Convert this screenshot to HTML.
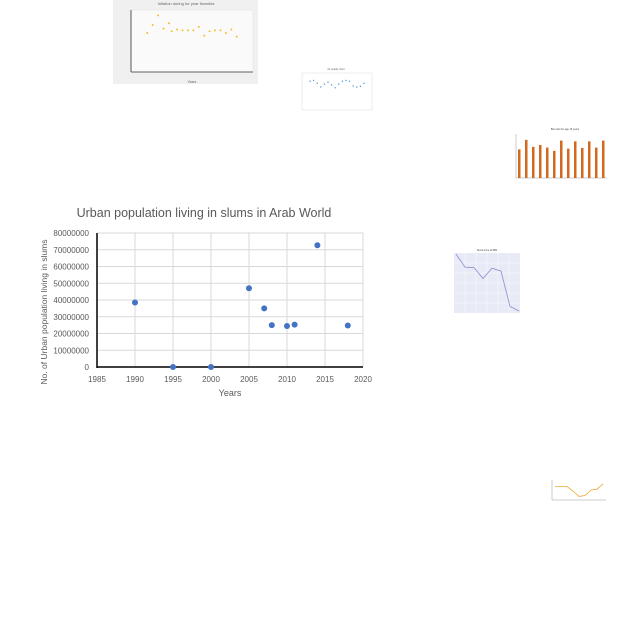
<!DOCTYPE html>
<html><head><meta charset="utf-8"><style>
html,body{margin:0;padding:0;background:#fff;width:640px;height:640px;overflow:hidden}
svg{position:absolute;left:0;top:0}
text{font-family:"Liberation Sans",sans-serif}
</style></head><body>
<svg width="640" height="640">
<g id="thumbs"></g>
<g id="main"></g>
</svg>
<script>
// Main chart data
const years = [1990, 1995, 2000, 2005, 2007, 2008, 2010, 2011, 2014, 2018];
const slumPop = [38500000, 0, 0, 47000000, 35000000, 25000000, 24500000, 25300000, 72700000, 24800000];
const xTicks = [1985, 1990, 1995, 2000, 2005, 2010, 2015, 2020];
const yTicks = [0, 10000000, 20000000, 30000000, 40000000, 50000000, 60000000, 70000000, 80000000];
// Thumbnail data
const inflYears = [1981,1983,1985,1987,1989,1990,1992,1994,1996,1998,2000,2002,2004,2006,2008,2010,2012,2014];
const inflVals = [44,53,64,49,55,46,48,47,47,47,51,41,46,47,47,44,48,40];
const barVals = [78,104,85,90,83,74,102,80,100,82,100,83,102];
const stockVals = [1.0,0.77,0.76,0.57,0.75,0.7,0.08,0.0];
const waveVals = [0.78,0.8,0.72,0.62,0.7,0.75,0.68,0.6,0.7,0.78,0.8,0.78,0.65,0.62,0.64,0.72];
const orangeVals = [0.75,0.75,0.75,0.5,0.2,0.25,0.55,0.6,0.9];

const NS='http://www.w3.org/2000/svg';
function mk(parent,tag,attrs,txt){const e=document.createElementNS(NS,tag);for(const k in attrs)e.setAttribute(k,attrs[k]);if(txt!==undefined)e.textContent=txt;parent.appendChild(e);return e;}

const main=document.getElementById('main');
const X0=97,X1=363,Y0=367,Y1=233;
const sx=v=>X0+(v-1985)/(2020-1985)*(X1-X0);
const sy=v=>Y0-v/80000000*(Y0-Y1);
let t=mk(main,'text',{x:204,y:217,'text-anchor':'middle','font-size':12.5,fill:'#595959'},'Urban population living in slums in Arab World');


xTicks.forEach(v=>{let l=mk(main,'line',{x1:sx(v),x2:sx(v),y1:Y1,y2:Y0,stroke:'#d9d9d9','stroke-width':1});


let tt=mk(main,'text',{x:sx(v),y:382,'text-anchor':'middle','font-size':8,fill:'#595959'},String(v));

});
yTicks.forEach(v=>{let l=mk(main,'line',{x1:X0,x2:X1,y1:sy(v),y2:sy(v),stroke:'#d9d9d9','stroke-width':1});


let tt=mk(main,'text',{x:89,y:sy(v)+3,'text-anchor':'end','font-size':8,fill:'#595959'},String(v));

});
let ax=mk(main,'line',{x1:X0,x2:X0,y1:Y1,y2:Y0+1,stroke:'#000','stroke-width':1.5});


let ax2=mk(main,'line',{x1:X0,x2:X1,y1:Y0,y2:Y0,stroke:'#000','stroke-width':1.5});


t=mk(main,'text',{x:230,y:396,'text-anchor':'middle','font-size':9,fill:'#595959'},'Years');


t=mk(main,'text',{x:47,y:312,'text-anchor':'middle','font-size':8.5,fill:'#595959',transform:'rotate(-90 47 312)'},'No. of Urban population living in slums');


years.forEach((y,i)=>{let c=mk(main,'circle',{cx:sx(y),cy:sy(slumPop[i]),r:3,fill:'#4472c4'});

});

// Thumbnails
const th=document.getElementById('thumbs');
let r=mk(th,'rect',{x:113,y:0,width:145,height:84,fill:'#f0f0f0'});


mk(th,'rect',{x:131,y:10,width:122,height:62,fill:'#fafafa',stroke:'#ddd','stroke-width':0.5});
mk(th,'line',{x1:131,y1:10,x2:131,y2:72,stroke:'#333','stroke-width':0.8});
mk(th,'line',{x1:131,y1:72,x2:253,y2:72,stroke:'#333','stroke-width':0.8});
mk(th,'text',{x:186,y:5,'text-anchor':'middle','font-size':4,fill:'#666'},'Inflation during for year Namibia');
mk(th,'text',{x:192,y:83,'text-anchor':'middle','font-size':3.5,fill:'#666'},'Years');
inflYears.forEach((y,i)=>{let c=mk(th,'circle',{cx:131+(y-1975)/45*122,cy:72-inflVals[i]/70*62,r:1,fill:'#f2c12e'});

});
mk(th,'rect',{x:302,y:73,width:70,height:37,fill:'#fff',stroke:'#ddd','stroke-width':0.5});
mk(th,'text',{x:336,y:70,'text-anchor':'middle','font-size':2.5,fill:'#666'},'Air quality chart');
waveVals.forEach((v,i)=>{let c=mk(th,'circle',{cx:310+i*3.6,cy:110-v*37,r:0.7,fill:'#4a90d9'});

});
mk(th,'text',{x:565,y:130,'text-anchor':'middle','font-size':2.5,fill:'#444'},'Bar ratio for age 15 years');
mk(th,'line',{x1:516,y1:134,x2:516,y2:178,stroke:'#999','stroke-width':0.5});
mk(th,'line',{x1:516,y1:178,x2:607,y2:178,stroke:'#999','stroke-width':0.5});
barVals.forEach((v,i)=>{const h=v/120*44;let b=mk(th,'rect',{x:518+i*7,y:178-h,width:2.5,height:h,fill:'#d2691e'});

});
mk(th,'rect',{x:454,y:253,width:66,height:60,fill:'#e8eaf6'});
for(let k=1;k<6;k++){mk(th,'line',{x1:454,x2:520,y1:253+k*10,y2:253+k*10,stroke:'#fff','stroke-width':0.4});mk(th,'line',{y1:253,y2:313,x1:454+k*11,x2:454+k*11,stroke:'#fff','stroke-width':0.4});}
mk(th,'text',{x:487,y:251,'text-anchor':'middle','font-size':2.5,fill:'#444'},'Stock price of IBM');
let pts=stockVals.map((v,i)=>(456+i*9)+','+(254+(1-v)*57)).join(' ');
let pl=mk(th,'polyline',{points:pts,fill:'none',stroke:'#8a8fd0','stroke-width':0.8});


mk(th,'line',{x1:552,y1:480,x2:552,y2:500,stroke:'#999','stroke-width':0.5});
mk(th,'line',{x1:552,y1:500,x2:606,y2:500,stroke:'#999','stroke-width':0.5});
pts=orangeVals.map((v,i)=>(555+i*6)+','+(500-v*18)).join(' ');
pl=mk(th,'polyline',{points:pts,fill:'none',stroke:'#f0a830','stroke-width':0.8});


</script>
</body></html>
